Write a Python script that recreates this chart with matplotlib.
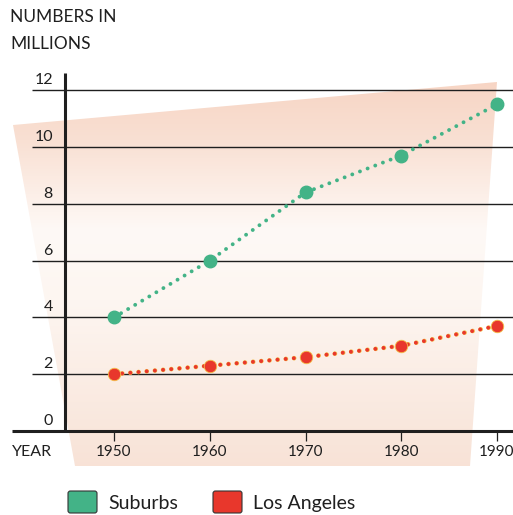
"""
Population growth of Los Angeles and its suburbs, 1950-1990,
drawn in a printed-atlas style: peach backdrop, dotted trend lines,
rounded legend swatches.
"""

import matplotlib.pyplot as plt
import numpy as np
from matplotlib.patches import Polygon, FancyBboxPatch

plt.rcParams["font.family"] = ["Lato", "DejaVu Sans"]

YEARS = [1950, 1960, 1970, 1980, 1990]
SUBURBS = [4.0, 6.0, 8.4, 9.7, 11.5]
LOS_ANGELES = [2.0, 2.3, 2.6, 3.0, 3.7]
Y_TICKS = [0, 2, 4, 6, 8, 10, 12]
SERIES_LABELS = ["Suburbs", "Los Angeles"]

GREEN = "#43b387"
RED = "#e8372c"
INK = "#1f1f1f"

W, H = 513, 515
fig = plt.figure(figsize=(W / 100, H / 100), dpi=100)
ax = fig.add_axes([0, 0, 1, 1])

# axis scaling: one year = 9.575 px, one million = 28.4 px, 1950 at px 114, 0 at px 431
PX_PER_YEAR = 9.575
PX_PER_UNIT = 28.4
X0 = 1950 - 114 / PX_PER_YEAR
Y_TOP = 431 / PX_PER_UNIT


def px(x, y):
    return X0 + x / PX_PER_YEAR, Y_TOP - y / PX_PER_UNIT


ax.set_xlim(X0, X0 + W / PX_PER_YEAR)
ax.set_ylim(Y_TOP - H / PX_PER_UNIT, Y_TOP)
ax.axis("off")

# peach backdrop with a vertical fade (peach top, near white middle, blush bottom)
corners = [px(13, 125), px(497, 82), px(470, 466), px(75, 466)]
backdrop = Polygon(corners, closed=True, facecolor="none", edgecolor="none")
ax.add_patch(backdrop)
stops_y = np.array([80, 140, 230, 300, 470])
stops_c = np.array([[247, 213, 196], [249, 224, 211], [254, 249, 246],
                    [253, 246, 241], [248, 226, 214]]) / 255
rows = np.arange(80, 470)
grad = np.stack([np.interp(rows, stops_y, stops_c[:, k]) for k in range(3)], axis=-1)
grad = np.repeat(grad[:, None, :], 2, axis=1)
x_left, y_top = px(0, 80)
x_right, y_bot = px(W, 470)
img = ax.imshow(grad, extent=[x_left, x_right, y_bot, y_top], aspect="auto",
                interpolation="bilinear", zorder=0)
img.set_clip_path(backdrop)

# gridlines and axes
grid_left = px(32, 0)[0]
ax.hlines(Y_TICKS[1:], grid_left, px(W, 0)[0], color=INK, lw=1.0, zorder=1)
ax.hlines(0, px(12, 0)[0], px(W, 0)[0], color=INK, lw=2.2, zorder=2)
ax.vlines(px(65, 0)[0], 0, px(0, 73)[1], color=INK, lw=2.2, zorder=2)

tick_len = 10 / PX_PER_UNIT
ax.vlines(YEARS, -tick_len, 0, color=INK, lw=0.9, zorder=2)
for yr in YEARS:
    ax.text(yr, px(0, 452)[1], str(yr), ha="center", va="center",
            fontsize=11, color=INK)
ax.text(px(12, 0)[0], px(0, 452)[1], "YEAR", ha="left", va="center",
        fontsize=11.5, color=INK)

label_x = px(53, 0)[0]
for v in Y_TICKS:
    ax.text(label_x, v + 10 / PX_PER_UNIT, str(v), ha="right", va="center",
            fontsize=11.5, color=INK)

fig.text(10 / W, 1 - 17 / H, "NUMBERS IN", ha="left", va="center",
         fontsize=12.5, color=INK)
fig.text(10 / W, 1 - 44 / H, "MILLIONS", ha="left", va="center",
         fontsize=12.5, color=INK)

# dotted series with round dots and larger markers at each census year
dots = dict(lw=2.8, linestyle=(0, (0.01, 2.1)), dash_capstyle="round", zorder=4)
ax.plot(YEARS, LOS_ANGELES, color="#f5c04a", lw=3.4,
        linestyle=(0, (0.01, 1.73)), dash_capstyle="round", zorder=3)
ax.plot(YEARS, SUBURBS, color=GREEN, **dots)
ax.plot(YEARS, LOS_ANGELES, color=RED, **dots)
ax.plot(YEARS, SUBURBS, "o", color=GREEN, ms=9, mec=GREEN, zorder=5)
ax.plot(YEARS, LOS_ANGELES, "o", color=RED, ms=9, mec="#f5c04a", mew=0.6, zorder=5)

# legend swatches
for (x, label, color) in [(68, SERIES_LABELS[0], GREEN), (213, SERIES_LABELS[1], RED)]:
    sx, sy = px(x, 513)
    sw = 29 / PX_PER_YEAR
    sh = 22 / PX_PER_UNIT
    ax.add_patch(FancyBboxPatch((sx, sy), sw, sh,
                                boxstyle="round,pad=0,rounding_size=0.25",
                                mutation_aspect=PX_PER_YEAR / PX_PER_UNIT,
                                facecolor=color, edgecolor="#333333", lw=0.8,
                                clip_on=False, zorder=3))
    ax.text(sx + (40 / PX_PER_YEAR), px(0, 503)[1], label, ha="left", va="center",
            fontsize=14, color=INK)

fig.savefig("out.png", dpi=100)
